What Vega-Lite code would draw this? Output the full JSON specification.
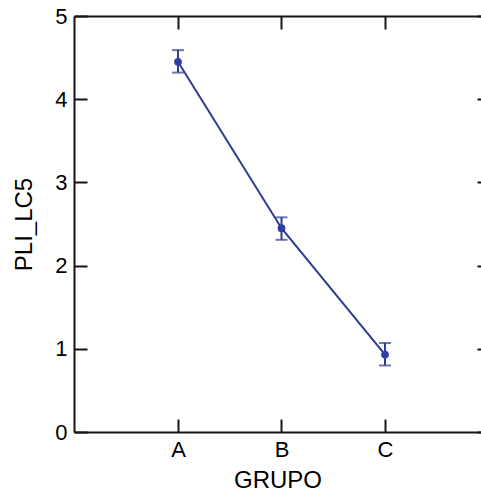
{
  "$schema": "https://vega.github.io/schema/vega-lite/v6.json",
  "autosize": "none",
  "width": 407,
  "height": 416,
  "padding": {"left": 74, "top": 16, "right": 0, "bottom": 60},
  "background": "white",
  "config": {
    "view": {"stroke": null},
    "axis": {
      "labelFont": "Liberation Sans",
      "titleFont": "Liberation Sans",
      "labelFontSize": 22,
      "titleFontSize": 24,
      "titleFontWeight": "normal",
      "labelColor": "black",
      "titleColor": "black",
      "domainColor": "#1a1212",
      "domainWidth": 2,
      "tickColor": "#1a1212",
      "tickWidth": 2,
      "grid": false
    }
  },
  "data": {
    "values": [
      {"GRUPO": "A", "mean": 4.45, "lo": 4.32, "hi": 4.59},
      {"GRUPO": "B", "mean": 2.45, "lo": 2.31, "hi": 2.58},
      {"GRUPO": "C", "mean": 0.93, "lo": 0.8, "hi": 1.07}
    ]
  },
  "encoding": {
    "x": {
      "field": "GRUPO",
      "type": "nominal",
      "scale": {"type": "point", "padding": 0.966, "align": 0.52}
    }
  },
  "layer": [
    {
      "mark": {"type": "line", "color": "#2e3b8e", "strokeWidth": 2},
      "encoding": {
        "x": {
          "field": "GRUPO",
          "type": "nominal",
          "axis": {
            "orient": "bottom",
            "title": "GRUPO",
            "labelAngle": 0,
            "tickSize": -13,
            "labelPadding": 20,
            "titlePadding": 8
          }
        },
        "y": {
          "field": "mean",
          "type": "quantitative",
          "scale": {"domain": [0, 5], "nice": false, "zero": false},
          "axis": {
            "orient": "left",
            "title": "PLI_LC5",
            "values": [0, 1, 2, 3, 4, 5],
            "tickSize": -13,
            "labelPadding": 20,
            "titlePadding": 18
          }
        }
      }
    },
    {
      "mark": {"type": "rule", "color": "#2f3b94", "strokeWidth": 2},
      "encoding": {
        "x": {
          "field": "GRUPO",
          "type": "nominal",
          "axis": {
            "orient": "top",
            "title": null,
            "labels": false,
            "tickSize": -13
          }
        },
        "y": {
          "field": "lo",
          "type": "quantitative",
          "scale": {"domain": [0, 5], "nice": false, "zero": false},
          "axis": {
            "orient": "right",
            "title": null,
            "labels": false,
            "domain": false,
            "values": [0, 1, 2, 3, 4, 5],
            "tickSize": -4
          }
        },
        "y2": {"field": "hi"}
      }
    },
    {
      "mark": {"type": "tick", "color": "#2f3b94", "thickness": 2, "size": 12},
      "encoding": {
        "x": {"field": "GRUPO", "type": "nominal", "axis": null},
        "y": {"field": "lo", "type": "quantitative", "scale": {"domain": [0, 5], "nice": false, "zero": false}, "axis": null}
      }
    },
    {
      "mark": {"type": "tick", "color": "#2f3b94", "thickness": 2, "size": 12},
      "encoding": {
        "x": {"field": "GRUPO", "type": "nominal", "axis": null},
        "y": {"field": "hi", "type": "quantitative", "scale": {"domain": [0, 5], "nice": false, "zero": false}, "axis": null}
      }
    },
    {
      "mark": {"type": "point", "filled": true, "opacity": 1, "color": "#2f3fa6", "size": 60, "shape": "circle"},
      "encoding": {
        "x": {"field": "GRUPO", "type": "nominal", "axis": null},
        "y": {"field": "mean", "type": "quantitative", "scale": {"domain": [0, 5], "nice": false, "zero": false}, "axis": null}
      }
    }
  ],
  "resolve": {"axis": {"x": "independent", "y": "independent"}}
}
